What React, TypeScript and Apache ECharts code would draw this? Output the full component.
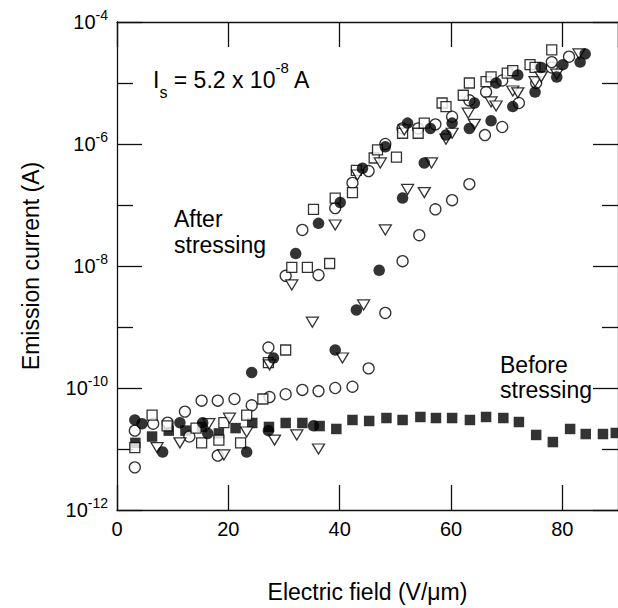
import React, { useEffect, useRef } from 'react';
import * as echarts from 'echarts';

const FONT = '"Liberation Sans", Arial, Helvetica, sans-serif';

// Axis ticks
const yMajorTicks = [1e-12, 1e-10, 1e-8, 1e-6, 1e-4];
const yMinorTicks = [1e-11, 1e-9, 1e-7, 1e-5];

// Before stressing (filled squares)
const beforeStressing: [number, number][] = [
  [3.3, 1.26e-11], [6.3, 1.6e-11], [9.3, 2.0e-11], [12.3, 2.0e-11], [15.3, 2.3e-11],
  [18.3, 1.8e-11], [21.3, 2.2e-11], [24.3, 2.67e-11], [27.3, 2.3e-11], [30.3, 2.67e-11],
  [33.3, 2.67e-11], [36.4, 2.38e-11], [39.4, 2.13e-11], [42.3, 2.99e-11], [45.3, 2.88e-11],
  [48.4, 3.22e-11], [51.3, 2.99e-11], [54.5, 3.35e-11], [57.3, 3.22e-11], [60.2, 3.22e-11],
  [63.4, 2.99e-11], [66.3, 3.35e-11], [69.4, 3.22e-11], [72.2, 2.77e-11], [75.3, 1.7e-11],
  [78.3, 1.3e-11], [81.4, 2.13e-11], [84.2, 1.76e-11], [87.3, 1.76e-11], [89.6, 1.83e-11],
];

// After stressing (open circles)
const openCircles: [number, number][] = [
  [3.2, 5.0e-12], [3.2, 2.0e-11], [6.5, 2.6e-11], [9.1, 2.7e-11], [12.2, 4.1e-11],
  [13.0, 1.6e-11], [18.1, 7.8e-12],
  [15.2, 6.2e-11], [18.1, 6.2e-11], [21.1, 6.6e-11], [24.2, 5.2e-11], [27.4, 7.1e-11],
  [30.3, 7.9e-11], [33.3, 9.3e-11], [36.2, 8.9e-11], [39.2, 1.0e-10], [42.3, 1.05e-10],
  [45.2, 2.1e-10], [48.2, 1.7e-9], [51.3, 1.2e-8], [54.3, 3.2e-8], [57.2, 8.5e-8],
  [60.2, 1.2e-7], [63.3, 2.2e-7], [66.1, 1.4e-6], [69.2, 1.9e-6], [72.2, 4.7e-6],
  [75.3, 1.0e-5], [78.1, 1.8e-5], [81.2, 2.7e-5],
  [27.2, 4.6e-10], [30.3, 6.9e-9], [36.2, 7.1e-9], [33.3, 3.9e-8], [39.2, 8.9e-8],
  [42.3, 2.3e-7], [45.2, 3.6e-7], [48.2, 1.0e-6], [51.3, 1.8e-6], [54.1, 1.8e-6],
  [57.2, 2.1e-6], [60.2, 2.8e-6], [63.3, 5.2e-6], [66.3, 7.1e-6], [69.2, 1.1e-5],
  [78.1, 2.2e-5],
];

// After stressing (open squares)
const openSquares: [number, number][] = [
  [3.2, 1.05e-11], [6.3, 3.6e-11], [9.0, 2.4e-11], [14.2, 2.2e-11], [15.2, 1.26e-11],
  [18.3, 1.4e-11], [19.2, 2.7e-11], [22.2, 1.26e-11], [23.3, 3.6e-11], [26.2, 6.6e-11],
  [27.2, 2.6e-10], [30.3, 4.2e-10], [31.4, 9.5e-9], [34.2, 9.5e-9], [38.2, 1.1e-8],
  [35.3, 8.5e-8], [39.2, 1.3e-7], [42.3, 1.6e-7], [43.0, 3.7e-7], [46.2, 5.9e-7],
  [46.8, 8.0e-7], [50.2, 6.1e-7], [51.3, 1.5e-6], [54.1, 1.5e-6], [55.2, 2.2e-6],
  [58.4, 4.7e-6], [59.1, 4.1e-6], [62.2, 6.3e-6], [63.3, 1.0e-5], [66.3, 1.05e-5],
  [67.2, 1.26e-5], [70.1, 1.45e-5], [71.1, 1.6e-5], [74.2, 2.0e-5], [75.1, 1.8e-5],
  [78.1, 3.5e-5],
];

// After stressing (open down-triangles)
const openTriangles: [number, number][] = [
  [7.2, 1.05e-11], [11.3, 1.26e-11], [16.5, 2.6e-11], [19.2, 8.0e-12], [20.2, 3.2e-11],
  [23.3, 1.9e-11], [28.3, 1.4e-11], [32.3, 1.7e-11], [36.2, 1.0e-11],
  [27.4, 2.4e-10], [31.4, 4.9e-9], [39.2, 4.7e-8], [43.2, 3.1e-7], [47.3, 4.9e-7],
  [51.6, 1.7e-6],
  [35.1, 1.2e-9], [40.5, 3.1e-10], [44.3, 2.3e-9], [48.2, 3.9e-8], [52.2, 1.8e-7],
  [55.2, 1.6e-7], [56.5, 4.9e-7], [59.1, 1.2e-6], [60.2, 1.5e-6], [63.1, 3.2e-6],
  [64.2, 2.1e-6], [67.2, 4.9e-6], [68.1, 4.2e-6], [71.1, 7.4e-6], [72.0, 6.9e-6],
  [75.1, 1.05e-5], [76.2, 1.26e-5], [79.0, 1.4e-5], [83.0, 3.0e-5],
];

// After stressing (filled circles)
const filledCircles: [number, number][] = [
  [3.2, 3.0e-11], [4.5, 2.6e-11], [8.2, 8.9e-12], [11.3, 2.7e-11], [15.4, 2.7e-11],
  [16.3, 1.8e-11], [23.3, 8.9e-12], [27.2, 2.0e-11], [35.3, 2.4e-11],
  [24.2, 1.8e-10], [28.1, 3.1e-10], [32.1, 1.6e-8], [36.2, 5.0e-8], [40.1, 1.1e-7],
  [44.1, 4.0e-7], [48.2, 9.0e-7], [52.2, 2.2e-6], [56.3, 1.8e-6], [60.2, 2.2e-6],
  [64.2, 4.7e-6], [68.1, 1.0e-5], [72.0, 1.35e-5], [76.2, 1.8e-5], [80.1, 2.0e-5],
  [84.1, 3.0e-5],
  [39.2, 4.2e-10], [43.0, 1.9e-9], [47.1, 8.5e-9], [51.3, 1.3e-7], [55.2, 4.9e-7],
  [59.1, 1.4e-6], [63.3, 1.8e-6], [67.2, 2.4e-6], [71.1, 4.1e-6], [75.1, 7.1e-6],
  [79.0, 1.25e-5], [83.2, 2.2e-5],
];

const LINE = { color: '#111', width: 1.3 };
const OPEN = { color: '#fff', borderColor: '#000', borderWidth: 1.3 };

export default function App() {
  const ref = useRef<HTMLDivElement>(null);
  useEffect(() => {
    if (!ref.current) return;
    const chart = echarts.init(ref.current, undefined, { renderer: 'svg' });
    const yCommon = { type: 'log', logBase: 10, min: 1e-12, max: 1e-4, splitLine: { show: false } };
    const xCommon = { type: 'value', min: 0, max: 90, interval: 20, splitLine: { show: false } };
    chart.setOption({
      animation: false,
      backgroundColor: '#fff',
      grid: { left: 117, right: 0, top: 22, bottom: 98, outerBoundsMode: 'none' },
      xAxis: [
        {
          ...xCommon,
          position: 'bottom',
          axisLine: { lineStyle: LINE },
          axisTick: { inside: true, length: 25, lineStyle: LINE },
          axisLabel: { color: '#000', fontSize: 20, fontFamily: FONT, margin: 9, showMaxLabel: false },
          name: 'Electric field (V/\u03bcm)',
          nameLocation: 'middle',
          nameGap: 70,
          nameTextStyle: { color: '#000', fontSize: 23, fontFamily: FONT },
        },
        {
          ...xCommon,
          position: 'top',
          axisLine: { lineStyle: LINE },
          axisTick: { inside: true, length: 25, lineStyle: LINE },
          axisLabel: { show: false },
        },
      ],
      yAxis: [
        {
          ...yCommon,
          position: 'left',
          axisLine: { show: true, lineStyle: LINE },
          axisTick: { inside: true, length: 25, customValues: yMajorTicks, lineStyle: LINE },
          axisLabel: {
            customValues: yMajorTicks,
            margin: 9,
            formatter: (v: number) => `{b|10}{s|${Math.round(Math.log10(v))}}`,
            rich: {
              b: { fontSize: 20, fontFamily: FONT, color: '#000', lineHeight: 28 },
              s: { fontSize: 14, fontFamily: FONT, color: '#000', lineHeight: 14, verticalAlign: 'top' },
            },
          },
          name: 'Emission current (A)',
          nameLocation: 'middle',
          nameGap: 75,
          nameTextStyle: { color: '#000', fontSize: 23, fontFamily: FONT },
        },
        {
          ...yCommon,
          position: 'left',
          axisLine: { show: false },
          axisTick: { inside: true, length: 16, customValues: yMinorTicks, lineStyle: LINE },
          axisLabel: { show: false },
        },
        {
          ...yCommon,
          position: 'right',
          axisLine: { show: true, lineStyle: LINE },
          axisTick: { inside: true, length: 25, customValues: yMajorTicks, lineStyle: LINE },
          axisLabel: { show: false },
        },
        {
          ...yCommon,
          position: 'right',
          axisLine: { show: false },
          axisTick: { inside: true, length: 16, customValues: yMinorTicks, lineStyle: LINE },
          axisLabel: { show: false },
        },
      ],
      graphic: [
        {
          type: 'text',
          x: 153,
          y: 80,
          silent: true,
          style: {
            text: '{m|I}{sub|s}{m| = 5.2 x 10}{sup|-8}{m| A}',
            align: 'left',
            verticalAlign: 'middle',
            fill: '#000',
            rich: {
              m: { fontSize: 23, fontFamily: FONT, fill: '#000', lineHeight: 40 },
              sub: { fontSize: 16, fontFamily: FONT, fill: '#000', lineHeight: 16, verticalAlign: 'bottom' },
              sup: { fontSize: 15, fontFamily: FONT, fill: '#000', lineHeight: 23, verticalAlign: 'top' },
            },
          },
        },
        {
          type: 'text',
          x: 174,
          y: 231.5,
          silent: true,
          style: {
            text: 'After\nstressing',
            fontSize: 23,
            fontFamily: FONT,
            lineHeight: 26,
            fill: '#000',
            align: 'left',
            verticalAlign: 'middle',
          },
        },
        {
          type: 'text',
          x: 500,
          y: 377.5,
          silent: true,
          style: {
            text: 'Before\nstressing',
            fontSize: 23,
            fontFamily: FONT,
            lineHeight: 25,
            fill: '#000',
            align: 'left',
            verticalAlign: 'middle',
          },
        },
      ],
      series: [
        { type: 'scatter', data: beforeStressing, symbol: 'rect', symbolSize: 10.5, itemStyle: { color: '#000' }, silent: true },
        { type: 'scatter', data: openCircles, symbol: 'circle', symbolSize: 11, itemStyle: OPEN, silent: true },
        { type: 'scatter', data: openSquares, symbol: 'rect', symbolSize: 10, itemStyle: OPEN, silent: true },
        { type: 'scatter', data: openTriangles, symbol: 'triangle', symbolRotate: 180, symbolSize: [12, 10], itemStyle: OPEN, silent: true },
        { type: 'scatter', data: filledCircles, symbol: 'circle', symbolSize: 11.5, itemStyle: { color: '#000' }, silent: true },
      ],
    });
    return () => chart.dispose();
  }, []);
  return <div ref={ref} style={{ position: 'fixed', left: 0, top: 0, width: 618, height: 608 }} />;
}
